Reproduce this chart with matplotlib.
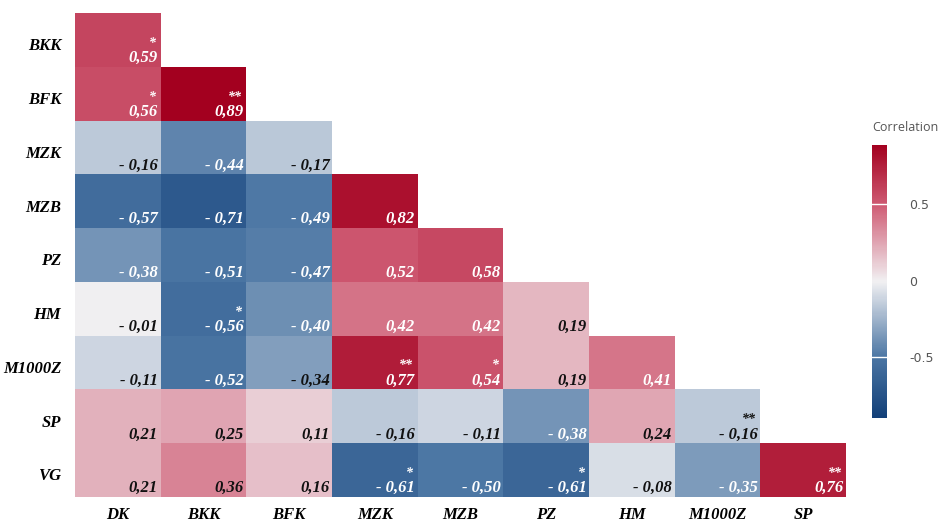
import numpy as np
import matplotlib
matplotlib.use("Agg")
import matplotlib.pyplot as plt
from matplotlib.colors import LinearSegmentedColormap

# variables (rows top->bottom, cols left->right)
row_labels = ["BKK", "BFK", "MZK", "MZB", "PZ", "HM", "M1000Z", "SP", "VG"]
col_labels = ["DK", "BKK", "BFK", "MZK", "MZB", "PZ", "HM", "M1000Z", "SP"]

# lower triangle correlations, one list per row
corr_rows = [
    [0.59],
    [0.56, 0.89],
    [-0.16, -0.44, -0.17],
    [-0.57, -0.71, -0.49, 0.82],
    [-0.38, -0.51, -0.47, 0.52, 0.58],
    [-0.01, -0.56, -0.40, 0.42, 0.42, 0.19],
    [-0.11, -0.52, -0.34, 0.77, 0.54, 0.19, 0.41],
    [0.21, 0.25, 0.11, -0.16, -0.11, -0.38, 0.24, -0.16],
    [0.21, 0.36, 0.16, -0.61, -0.50, -0.61, -0.08, -0.35, 0.76],
]
# significance marks
star_rows = [
    ["*"],
    ["*", "**"],
    ["", "", ""],
    ["", "", "", ""],
    ["", "", "", "", ""],
    ["", "*", "", "", "", ""],
    ["", "", "", "**", "*", "", ""],
    ["", "", "", "", "", "", "", "**"],
    ["", "", "", "*", "", "*", "", "", "**"],
]

n = len(row_labels)
mat = np.full((n, n), np.nan)
for i, r in enumerate(corr_rows):
    mat[i, :len(r)] = r

cmap = LinearSegmentedColormap.from_list("corr", [
    (0.00, "#123f78"),
    (0.22, "#4a75a3"),
    (0.50, "#f1f0f2"),
    (0.78, "#cf5c74"),
    (1.00, "#a3001f"),
])
vmin, vmax = -0.9, 0.89

fig = plt.figure(figsize=(9.42, 5.23), dpi=100)
ax = fig.add_axes([75 / 942, 1 - 497 / 523, 771 / 942, 484 / 523])
mesh = ax.pcolormesh(np.ma.masked_invalid(mat), cmap=cmap, vmin=vmin, vmax=vmax)
ax.set_xlim(0, n)
ax.set_ylim(n, 0)
for s in ax.spines.values():
    s.set_visible(False)

serif = dict(family="Liberation Serif", weight="bold", style="italic")
ax.set_xticks(np.arange(n) + 0.5)
ax.set_xticklabels(col_labels, fontsize=12, **serif)
ax.set_yticks(np.arange(n) + 0.58)
ax.set_yticklabels(row_labels, fontsize=12, **serif)
ax.tick_params(axis="x", length=0, pad=7)
ax.tick_params(axis="y", length=0, pad=10)

for i, r in enumerate(corr_rows):
    for j, v in enumerate(r):
        white = v > 0.38 or v < -0.345
        c = "white" if white else "#111111"
        txt = f"{v:.2f}".replace(".", ",").replace("-", "- ")
        ax.text(j + 0.97, i + 0.91, txt, ha="right", va="baseline",
                color=c, fontsize=12, **serif)
        if star_rows[i][j]:
            ax.text(j + 0.95, i + 0.63, star_rows[i][j], ha="right",
                    va="baseline", color=c, fontsize=10, **serif)

# colorbar
cax = fig.add_axes([872 / 942, 1 - 418 / 523, 15 / 942, 273 / 523])
cb = fig.colorbar(mesh, cax=cax)
cb.outline.set_visible(False)
cb.set_ticks([0.5, 0, -0.5])
cb.set_ticklabels(["0.5", "0", "-0.5"])
cax.tick_params(length=0, pad=16, labelsize=9, labelcolor="#555555")
for t in [0.5, -0.5]:
    cax.axhline(t, color="white", lw=1)
fig.text(905 / 942, 1 - 127 / 523, "Correlation", ha="center", va="center",
         fontsize=9, color="#555555", family="Open Sans")

fig.savefig("out.png", dpi=100)
